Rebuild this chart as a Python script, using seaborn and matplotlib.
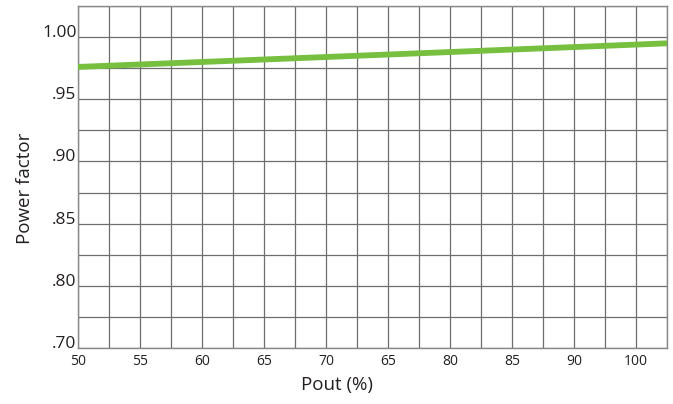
import matplotlib
matplotlib.use('Agg')
import matplotlib.pyplot as plt
import seaborn as sns
import pandas as pd
import numpy as np

# values
pout = [50, 60, 70, 80, 90, 97.5]
power_factor = [0.976, 0.980, 0.984, 0.988, 0.992, 0.995]

x_tick_pos = [50, 52.5, 55, 57.5, 60, 62.5, 65, 67.5, 70, 72.5, 75, 77.5,
              80, 82.5, 85, 87.5, 90, 92.5, 95, 97.5]
x_tick_labels = ['50', '', '55', '', '60', '', '65', '', '70', '', '65', '',
                 '80', '', '85', '', '90', '', '100', '']
y_tick_pos = [0.75, 0.775, 0.80, 0.825, 0.85, 0.875, 0.90, 0.925, 0.95,
              0.975, 1.00, 1.025]
y_tick_labels = ['.70', '', '.80', '', '.85', '', '.90', '', '.95', '',
                 '1.00', '']

data = pd.DataFrame({'Pout': pout, 'PF': power_factor})

sns.set_style('white')
plt.rcParams['font.family'] = ['Open Sans', 'DejaVu Sans']

fig = plt.figure(figsize=(6.73, 4.04), dpi=100, facecolor='white')
ax = fig.add_axes([0.1159, 0.1386, 0.8752, 0.8465])

sns.lineplot(data=data, x='Pout', y='PF', color='#76bf3f', linewidth=4.2,
             solid_capstyle='butt', ax=ax, zorder=3)

ax.set_xlim(50, 97.5)
ax.set_ylim(0.75, 1.025)
ax.set_xticks(x_tick_pos)
ax.set_xticklabels(x_tick_labels, fontsize=10, color='#231f20')
ax.set_yticks(y_tick_pos)
ax.set_yticklabels(y_tick_labels, fontsize=12.5, color='#231f20', va='baseline')
ax.tick_params(axis='both', length=0)
ax.tick_params(axis='x', pad=4)
ax.tick_params(axis='y', pad=1)

ax.grid(True, color='#6e6e6e', linewidth=0.9)
ax.set_axisbelow(True)
for side in ['left', 'right', 'top', 'bottom']:
    ax.spines[side].set_color('#888888')
    ax.spines[side].set_linewidth(1.0)

ax.set_xlabel('Pout (%)', fontsize=13.5, color='#231f20', va='center')
ax.set_ylabel('Power factor', fontsize=13.5, color='#231f20', va='center')
ax.xaxis.set_label_coords(0.44, -0.108)
ax.yaxis.set_label_coords(-0.09, 0.468)

fig.savefig('out.png', dpi=100)
